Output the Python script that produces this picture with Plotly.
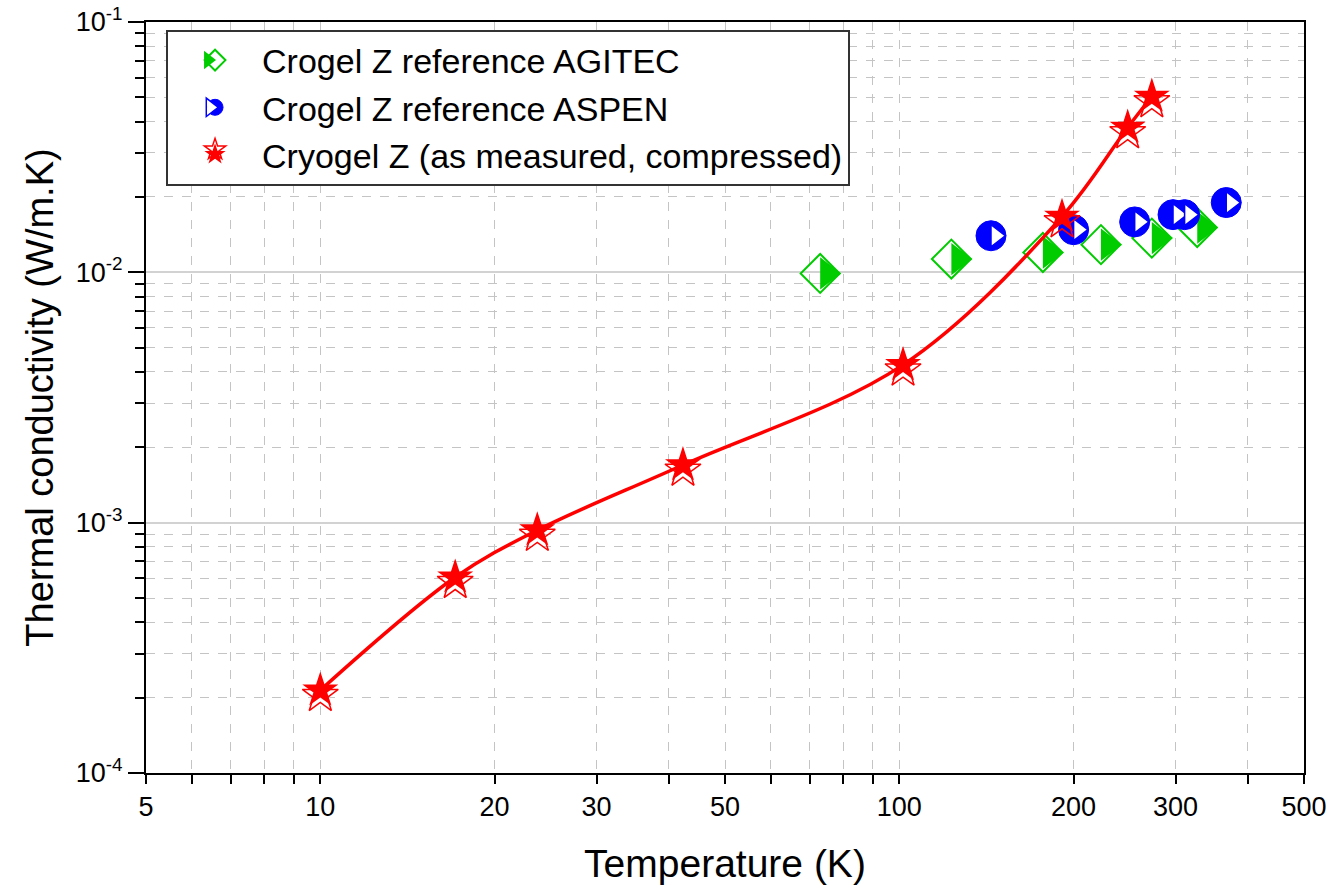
import math
import plotly.graph_objects as go

# ---------------- data ----------------
agitec_T = [73, 123, 177, 223, 273, 327]
agitec_k = [9.9e-3, 1.13e-2, 1.20e-2, 1.29e-2, 1.37e-2, 1.51e-2]

aspen_T = [144, 200, 255, 297, 311, 367]
aspen_k = [1.40e-2, 1.48e-2, 1.59e-2, 1.70e-2, 1.70e-2, 1.90e-2]

meas_T = [10.0, 17.1, 23.7, 42.3, 101.5, 191, 248, 273]
meas_k = [2.14e-4, 6.05e-4, 9.33e-4, 1.70e-3, 4.27e-3, 1.67e-2, 3.79e-2, 5.04e-2]

x_tick_vals = [5, 10, 20, 30, 50, 100, 200, 300, 500]
x_tick_text = ["5", "10", "20", "30", "50", "100", "200", "300", "500"]
y_tick_vals = [1e-4, 1e-3, 1e-2, 1e-1]
y_tick_text = ["10<sup>-4</sup>", "10<sup>-3</sup>", "10<sup>-2</sup>", "10<sup>-1</sup>"]

name_agitec = "Crogel Z reference AGITEC"
name_aspen = "Crogel Z reference ASPEN"
name_meas = "Cryogel Z (as measured, compressed)"

GREEN = "#00cc00"
BLUE = "#0000ff"
RED = "#ff0000"
FONT = "Arial, Liberation Sans, sans-serif"

x_minor = [m * 10 ** e for e in (0, 1, 2) for m in range(1, 10)
           if 5 <= m * 10 ** e <= 500]
y_minor = [m * 10.0 ** e for e in (-4, -3, -2) for m in range(2, 10)]

fig = go.Figure()

# AGITEC : open diamond + filled right half
DS = 30
TR = 14
fig.add_trace(go.Scatter(
    x=agitec_T, y=agitec_k, mode="markers", name=name_agitec, legend="legend",
    marker=dict(symbol="diamond-open", size=DS, color=GREEN, line=dict(width=2, color=GREEN))))
fig.add_trace(go.Scatter(
    x=agitec_T, y=agitec_k, mode="markers", name=" ", legend="legend2",
    marker=dict(symbol="triangle-down", size=2 * TR, angle=-90, standoff=TR / 2,
                color=GREEN, line=dict(width=0))))

# ASPEN : filled circle + white right-pointing triangle
CS = 30
WR = 9.5
fig.add_trace(go.Scatter(
    x=aspen_T, y=aspen_k, mode="markers", name=name_aspen, legend="legend",
    marker=dict(symbol="circle", size=CS, color=BLUE, line=dict(width=1, color=BLUE))))
fig.add_trace(go.Scatter(
    x=aspen_T, y=aspen_k, mode="markers", name=" ", legend="legend2",
    marker=dict(symbol="triangle-down", size=2 * WR, angle=-90, standoff=WR / 2,
                color="white", line=dict(width=1.5, color=BLUE))))

# measured : smooth red line + half-filled stars
fig.add_trace(go.Scatter(
    x=meas_T, y=meas_k, mode="lines", showlegend=False,
    line=dict(color=RED, width=3.5, shape="spline", smoothing=1.0)))
fig.add_trace(go.Scatter(
    x=meas_T, y=meas_k, mode="markers", name=" ", legend="legend2",
    marker=dict(symbol="star-open", size=27, angle=0, standoff=5,
                color=RED, line=dict(width=1.5, color=RED))))
fig.add_trace(go.Scatter(
    x=meas_T, y=meas_k, mode="markers", name=name_meas, legend="legend",
    marker=dict(symbol="star", size=27, color=RED, line=dict(width=0))))

grid_c = "#c4c4c4"
xr = [math.log10(5), math.log10(500)]

fig.update_layout(
    width=1335, height=891,
    margin=dict(l=146, r=31, t=22, b=118, pad=0),
    paper_bgcolor="white", plot_bgcolor="white",
    font=dict(family=FONT, color="black"),
    xaxis=dict(
        type="log", range=xr, tickmode="array", tickvals=x_tick_vals, ticktext=x_tick_text,
        ticks="outside", ticklen=9, tickwidth=2, tickcolor="black",
        tickfont=dict(size=27, family=FONT), automargin=False,
        showline=True, linewidth=2, linecolor="black", mirror=True,
        showgrid=True, gridcolor=grid_c, gridwidth=1, griddash="dash", zeroline=False,
        minor=dict(tickmode="array", tickvals=x_minor, ticks="outside", ticklen=9,
                   tickwidth=2, tickcolor="black", showgrid=True, gridcolor=grid_c,
                   gridwidth=1, griddash="dash"),
        title=dict(text="Temperature (K)", font=dict(size=39, family=FONT), standoff=28),
    ),
    xaxis2=dict(
        type="log", range=xr, overlaying="x", anchor="y", side="bottom",
        tickmode="array", tickvals=[10, 100], ticks="outside", ticklen=16, tickwidth=2,
        tickcolor="black", showticklabels=False, showgrid=False, showline=False, zeroline=False,
        automargin=False,
    ),
    yaxis=dict(
        type="log", range=[-4, -1], tickmode="array", tickvals=y_tick_vals, ticktext=y_tick_text,
        ticks="outside", ticklen=16, tickwidth=2, tickcolor="black",
        tickfont=dict(size=27, family=FONT), automargin=False,
        showline=True, linewidth=2, linecolor="black", mirror=True,
        showgrid=True, gridcolor="#d2d2d2", gridwidth=2, zeroline=False,
        minor=dict(tickmode="array", tickvals=y_minor, ticks="outside", ticklen=9,
                   tickwidth=2, tickcolor="black", showgrid=True, gridcolor=grid_c,
                   gridwidth=1, griddash="dash"),
        title=dict(text="Thermal conductivity (W/m.K)", font=dict(size=38, family=FONT), standoff=10),
    ),
    legend=dict(
        x=0.0173, y=0.99, xanchor="left", yanchor="top",
        bgcolor="white", bordercolor="#333333", borderwidth=2,
        font=dict(size=34, family=FONT, color="black"),
        itemwidth=84, itemsizing="trace", tracegroupgap=0,
    ),
    legend2=dict(
        x=0.0173, y=0.99, xanchor="left", yanchor="top",
        bgcolor="rgba(0,0,0,0)", bordercolor="rgba(0,0,0,0)", borderwidth=2,
        font=dict(size=34, family=FONT, color="black"),
        itemwidth=84, itemsizing="trace", tracegroupgap=0,
    ),
)

fig.write_html(
    "out.html",
    config={"displayModeBar": False},
    post_script="document.body.style.margin='0';document.body.style.overflow='hidden';",
)
